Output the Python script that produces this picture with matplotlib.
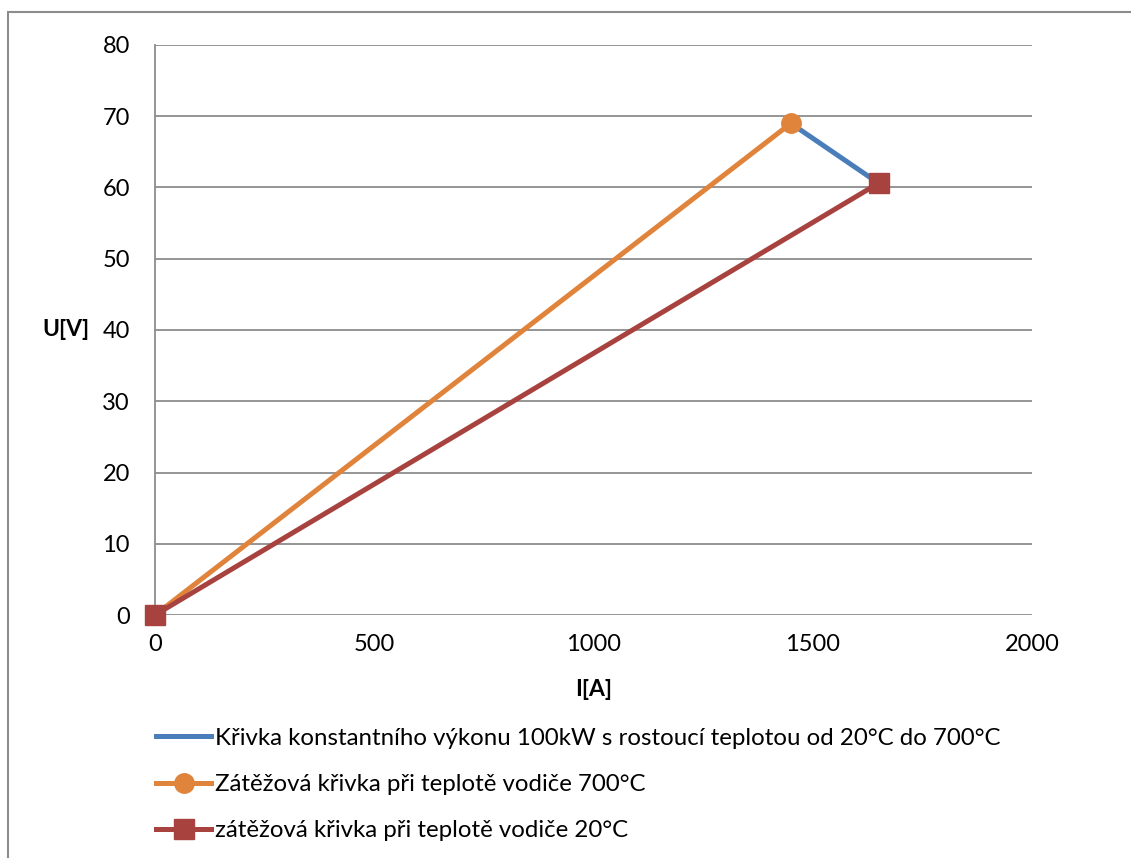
import matplotlib.pyplot as plt
from matplotlib.patches import Rectangle

plt.rcParams['font.family'] = ['Lato', 'DejaVu Sans']

# krivka konstantniho vykonu 100 kW
I_vykon = [1450, 1650]
U_vykon = [69.0, 60.6]

# zatezova krivka 700 °C
I_700 = [0, 1450]
U_700 = [0, 69.0]

# zatezova krivka 20 °C
I_20 = [0, 1650]
U_20 = [0, 60.6]

labels = ["Křivka konstantního výkonu 100kW s rostoucí teplotou od 20°C do 700°C",
          "Zátěžová křivka při teplotě vodiče 700°C",
          "zátěžová křivka při teplotě vodiče 20°C"]

fig = plt.figure(figsize=(11.31, 8.58), dpi=100)
ax = fig.add_axes([0.137, 0.2832, 0.7755, 0.6644])

# ramecek grafu (orizly vpravo a dole)
fig.patches.append(Rectangle((8/1131, -0.1), 1.2, 1 - 12/858 + 0.1, transform=fig.transFigure,
                             fill=False, edgecolor='#8c8c8c', linewidth=1.5))

ax.plot(I_vykon, U_vykon, color='#4A7EBB', lw=3.6, label=labels[0], zorder=3, clip_on=False)
ax.plot(I_700, U_700, color='#E0843C', lw=3.6, marker='o', ms=14, label=labels[1], zorder=4, clip_on=False)
ax.plot(I_20, U_20, color='#A8423F', lw=3.6, marker='s', ms=14, label=labels[2], zorder=5, clip_on=False)

ax.set_xlim(0, 2000)
ax.set_ylim(0, 80)
ax.set_xticks([0, 500, 1000, 1500, 2000])
ax.set_yticks(range(0, 81, 10))
ax.grid(axis='y', color='#8c8c8c', lw=1.3)
ax.set_axisbelow(True)
for s in ['top', 'right', 'bottom']:
    ax.spines[s].set_visible(False)
ax.spines['left'].set_color('#8c8c8c')
ax.spines['left'].set_linewidth(1.3)
ax.tick_params(axis='both', length=0, labelsize=17)
ax.tick_params(axis='y', pad=18)
ax.tick_params(axis='x', pad=14)

ax.set_xlabel("I[A]", fontsize=16.5, fontweight='bold', labelpad=17)
ax.set_ylabel("U[V]", fontsize=16.5, fontweight='bold', rotation=0, labelpad=26, va='center')

fig.legend(loc='upper left', bbox_to_anchor=(0.1295, 0.163), frameon=False, fontsize=17.3,
           handlelength=2.3, handletextpad=0.15, labelspacing=1.05, borderaxespad=0)

fig.savefig("out.png", dpi=100)
